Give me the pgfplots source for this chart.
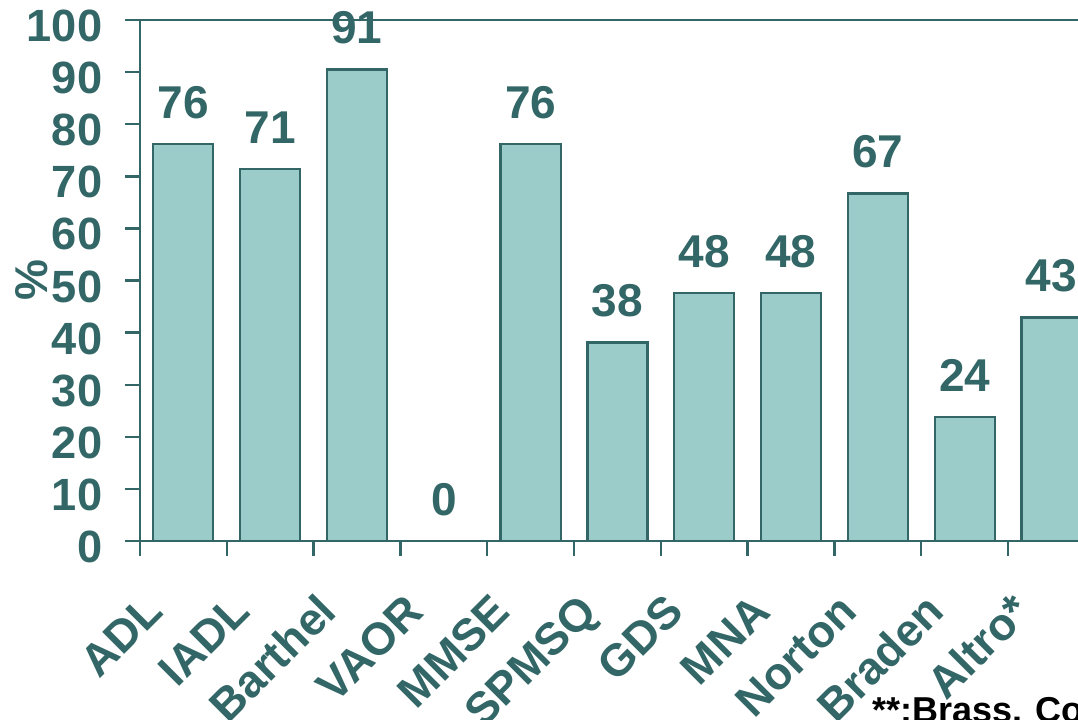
\documentclass[border=0pt]{standalone}
\usepackage{pgfplots}
\pgfplotsset{compat=1.18}
\usepackage{fontspec}
\setmainfont{Liberation Sans}
\definecolor{tealdark}{HTML}{336666}
\definecolor{tealfill}{HTML}{9CCCCA}

\begin{document}
\begin{tikzpicture}
\begin{axis}[
  at={(0,0)}, anchor=south west,
  scale only axis, width=477.4pt, height=260.5pt,
  xmin=-0.5, xmax=10.5, ymin=0, ymax=100,
  clip=false,
  axis line style={draw=tealdark, line width=1.2pt},
  tick align=outside,
  xtick={0,...,10},
  xticklabels={ADL,IADL,Barthel,VAOR,MMSE,SPMSQ,GDS,MNA,Norton,Braden,Altro*},
  major x tick style={draw=none},
  minor xtick={-0.5,0.5,...,10.5},
  minor x tick style={draw=tealdark, line width=1.2pt},
  minor tick length=7.5pt,
  ytick={0,10,...,100},
  major tick length=7.5pt,
  y tick style={draw=tealdark, line width=1.2pt},
  xtick pos=bottom, ytick pos=left,
  /pgf/number format/assume math mode=true,
  ticklabel style={font=\fontsize{22.6}{26}\selectfont\bfseries, text=tealdark},
  yticklabel style={anchor=east, inner sep=0pt, xshift=-11.2pt, yshift=-3pt},
  xticklabel style={inner sep=0pt, xshift=-9pt, yshift=-29pt, rotate=45, anchor=base east},
  ylabel={\%},
  every axis y label/.style={at={(axis description cs:0,0.5)}, xshift=-54pt, rotate=90,
    anchor=center, font=\fontsize{23}{26}\selectfont\bfseries, text=tealdark},
]
\addplot[ybar, bar width=30pt, fill=tealfill, draw=tealdark, line width=1.1pt,
  nodes near coords,
  nodes near coords style={/pgf/number format/fixed, /pgf/number format/precision=0,
    anchor=base, yshift=13pt, font=\fontsize{23}{26}\selectfont\bfseries, text=tealdark}]
coordinates {
  (0,76.2) (1,71.4) (2,90.5) (3,0) (4,76.2) (5,38.1)
  (6,47.6) (7,47.6) (8,66.7) (9,23.8) (10,42.9)
};
\end{axis}
\node[anchor=base west, inner sep=0, font=\fontsize{18}{20}\selectfont\bfseries]
  at (366pt,-90.5pt) {**:Brass. Cor};
\pgfresetboundingbox
\useasboundingbox (-70pt,-89pt) rectangle (469pt,270.5pt);
\end{tikzpicture}
\end{document}
